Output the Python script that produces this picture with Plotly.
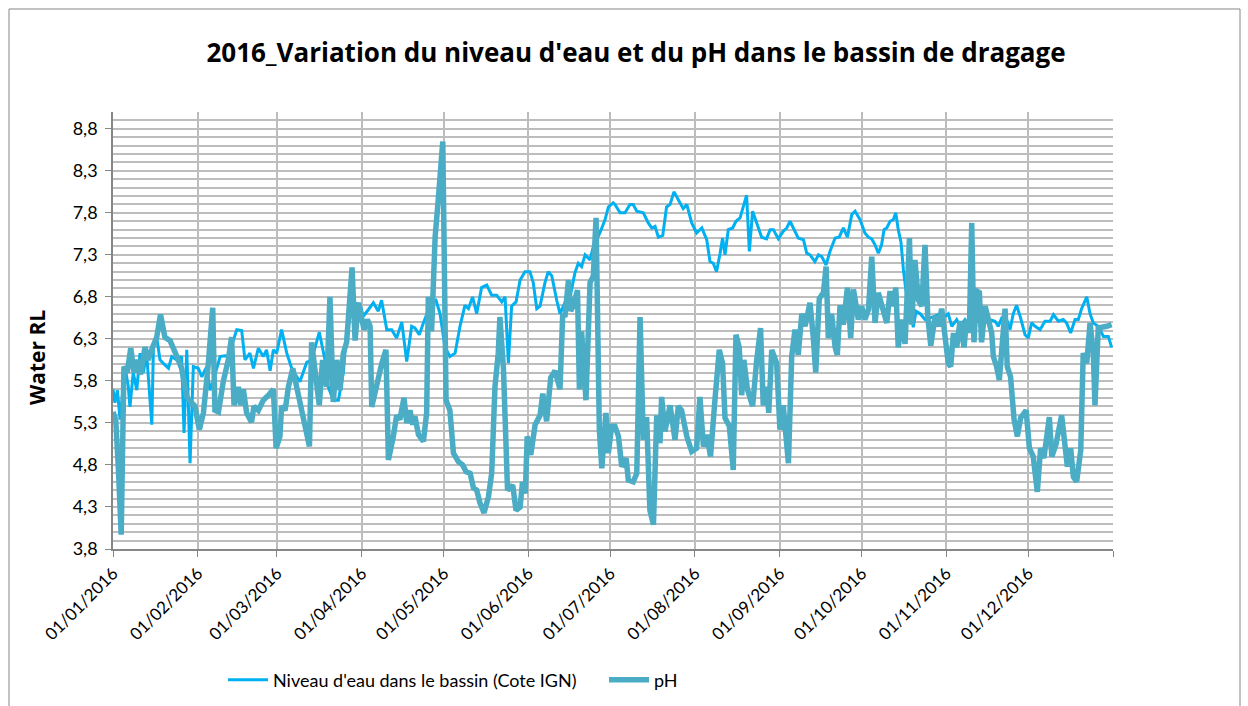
import pandas as pd
import plotly.graph_objects as go

# ---- Data (day offsets from 01/01/2016) ----
day_niveau = [0, 0.7, 1.6, 2.6, 4.4, 5.6, 6.2, 7.4, 8.7, 9.9, 11.1, 12.3, 14.2, 14.8, 16, 17.2, 19, 20.3,
              21.5, 23.3, 25.1, 26, 27, 28.2, 29.4, 31.2, 32.5, 34.3, 35.5, 36.7, 39.2, 41, 42.2, 45.3,
              47.1, 48.3, 50.1, 51.4, 53.2, 55, 56.2, 57.5, 58.7, 59.9, 61.7, 63.6, 65.4, 68.4, 70.9,
              72.7, 75.5, 77.6, 78.8, 80.6, 82.5, 84.3, 85.5, 88, 90.4, 91.6, 93.5, 95.3, 97.1, 98.3,
              100.2, 102, 103.8, 105.7, 107.5, 109.3, 110.5, 112.1, 113.6, 115.4, 116.6, 118.2, 119.7,
              121.5, 123.3, 125.2, 127, 128.8, 130.1, 131.6, 133.1, 134.9, 136.8, 138.6, 140.4, 142.3,
              143.5, 144.7, 145.9, 147.5, 149, 150.8, 152.6, 153.8, 155.1, 156.3, 158.1, 159.3, 160.6,
              162.4, 163.6, 165.4, 167.3, 169.1, 170.3, 171.5, 172.8, 174.6, 175.8, 178.2, 180.1, 181.3,
              183.1, 183.7, 185.6, 187.4, 189.2, 190.4, 191.7, 194.1, 195.9, 197.2, 198.4, 199.6, 201.2,
              202.6, 203.9, 205.3, 206.9, 208.7, 210, 211.8, 213.6, 215.5, 217.3, 218.5, 219.7, 220.9,
              222.2, 223.1, 224, 225.2, 226.8, 228, 229.5, 230.7, 231.9, 232.9, 234.1, 235.6, 237.4,
              239.2, 240.5, 241.7, 243.5, 245.3, 246.6, 247.8, 249, 250.8, 252.7, 253.9, 255.1, 256.9,
              258.2, 259.4, 261, 262.4, 264.3, 265.8, 267.3, 268.8, 270.4, 271.6, 273.4, 275.2, 276.5,
              277.7, 278.9, 280.1, 281.3, 282.2, 283.2, 284.4, 285.6, 286.5, 287.4, 288.4, 289.3, 290.5,
              291.7, 292.9, 293.9, 295.4, 297.2, 299, 300.9, 302.7, 304.5, 305.7, 307, 308.8, 310, 311.8,
              313.7, 315.5, 317.3, 319.2, 321, 322.8, 324, 325.3, 327.1, 328.3, 329.5, 330.7, 332, 333.8,
              335, 336.2, 337.5, 339.3, 341.1, 343, 344.2, 346, 347.8, 349, 350.5, 352.1, 353.3, 354.5,
              356.4, 357.6, 358.8, 360.6, 362.5, 364.3, 365.5]
niveau = [5.70, 5.54, 5.69, 5.34, 5.97, 5.73, 5.49, 5.90, 5.69, 6.13, 5.90, 6.13, 5.28, 6.20, 6.32, 6.05,
          5.99, 5.95, 6.09, 6.05, 6.09, 5.18, 6.17, 4.82, 5.97, 5.95, 5.85, 5.97, 5.69, 5.80, 6.09, 6.10,
          6.09, 6.41, 6.40, 6.05, 6.13, 5.95, 6.19, 6.09, 6.17, 5.92, 6.17, 6.13, 6.41, 6.13, 5.95, 5.79,
          6.02, 6.05, 6.38, 6.05, 5.73, 5.57, 5.57, 5.90, 6.37, 6.73, 6.71, 6.57, 6.65, 6.73, 6.63, 6.76,
          6.41, 6.41, 6.31, 6.50, 6.03, 6.45, 6.43, 6.35, 6.49, 6.65, 6.74, 6.76, 6.60, 6.20, 6.09, 6.13,
          6.45, 6.70, 6.66, 6.80, 6.60, 6.91, 6.94, 6.82, 6.82, 6.74, 6.80, 6.01, 6.69, 6.74, 7.00, 7.10,
          7.10, 6.97, 6.66, 6.69, 6.97, 7.10, 7.05, 6.76, 6.60, 6.73, 6.80, 7.09, 7.20, 7.16, 7.30, 7.24,
          7.40, 7.56, 7.72, 7.87, 7.92, 7.90, 7.80, 7.80, 7.90, 7.90, 7.82, 7.80, 7.68, 7.62, 7.64, 7.51,
          7.53, 7.87, 7.90, 8.05, 7.95, 7.85, 7.90, 7.68, 7.56, 7.62, 7.48, 7.22, 7.20, 7.10, 7.32, 7.50,
          7.30, 7.60, 7.62, 7.70, 7.74, 7.87, 8.01, 7.34, 7.82, 7.68, 7.51, 7.49, 7.60, 7.60, 7.49, 7.58,
          7.62, 7.70, 7.62, 7.50, 7.48, 7.32, 7.30, 7.22, 7.30, 7.28, 7.18, 7.34, 7.50, 7.51, 7.62, 7.51,
          7.78, 7.82, 7.72, 7.56, 7.51, 7.49, 7.42, 7.32, 7.42, 7.60, 7.62, 7.70, 7.72, 7.80, 7.60, 7.45,
          7.12, 6.80, 6.68, 6.44, 6.63, 6.60, 6.53, 6.55, 6.57, 6.60, 6.57, 6.60, 6.45, 6.53, 6.45, 6.53,
          6.43, 6.49, 6.53, 6.49, 6.53, 6.51, 6.45, 6.55, 6.53, 6.41, 6.60, 6.70, 6.57, 6.35, 6.31, 6.49,
          6.45, 6.41, 6.51, 6.51, 6.59, 6.51, 6.53, 6.49, 6.37, 6.53, 6.53, 6.66, 6.80, 6.60, 6.49, 6.45,
          6.33, 6.33, 6.20]

day_ph = [0, 1, 2, 3, 4, 5.2, 6.5, 7.7, 8.7, 10.1, 11.7, 12.9, 14.5, 16, 17.4, 19, 20.9, 22.1, 23.9, 25.1,
          27, 28.8, 30, 31.6, 33.1, 34.9, 36.5, 37.3, 38.6, 40.4, 42.2, 43.4, 44.3, 45.9, 46.7, 47.7,
          48.9, 50.7, 51.6, 53.2, 55, 56.9, 58.7, 59.7, 61.1, 61.7, 63, 64.2, 65.8, 67.2, 69.1, 70.9,
          71.9, 72.7, 73.9, 75.5, 76.7, 78.2, 79.4, 80.6, 81.9, 83.1, 84.3, 85.5, 87.5, 88.6, 89.8,
          91.9, 93.1, 94.1, 94.7, 96.5, 98.3, 99.9, 100.8, 102.6, 103.8, 105, 106.5, 107.5, 108.7,
          109.7, 110.5, 111.8, 113.6, 114.8, 115.4, 116.6, 117.9, 119.1, 120.7, 121.9, 123.3, 124.6,
          126.4, 128, 129.2, 130.7, 131.9, 133.1, 134.3, 135.8, 137.4, 138.6, 139.8, 141, 141.6, 142.9,
          144.4, 146.3, 147.5, 149, 149.9, 150.9, 151.6, 152.9, 154.5, 156.3, 157.3, 158.7, 160.2,
          161.8, 163.6, 164.6, 165.4, 166.7, 167.5, 168.5, 170, 170.7, 171.5, 173.1, 174.6, 175.8,
          176.8, 178, 178.9, 180.4, 181.3, 182.5, 183.7, 185, 186.2, 187.8, 188.6, 190.4, 191.7, 192.9,
          194.1, 195.3, 196.5, 197.8, 199, 200.2, 200.8, 202, 203.9, 205.7, 206.9, 208.1, 210, 211.8,
          213.6, 214.8, 216.1, 217.3, 218.7, 220.3, 221.9, 223.1, 224, 225.6, 227, 228, 229.2, 230.1,
          230.9, 232.2, 234.1, 235.6, 237, 238, 239.2, 240, 241.1, 242.9, 244.1, 245.3, 247.2, 248.4,
          249.6, 250.8, 252.1, 253.3, 255.1, 256.3, 257.2, 258.5, 260, 261, 261.8, 263, 264.3, 265.1,
          266.1, 267.3, 268.8, 270, 271, 272.8, 274, 275.2, 276.5, 277.7, 278.9, 280.1, 281.9, 283.2,
          284.4, 285.6, 286.5, 287.4, 288.7, 289.9, 291.5, 292.3, 293.5, 294.8, 296, 297.2, 298.2,
          299.3, 300.9, 302.1, 303.3, 304.5, 305.7, 306.6, 307.6, 308.8, 310, 311.5, 312.4, 313.4,
          314.3, 315.1, 316.1, 317.1, 317.9, 319.2, 320.4, 321.6, 322.2, 323.4, 324.4, 325.3, 326.5,
          327.3, 328.5, 329.8, 331, 332.2, 334.2, 335.4, 336.8, 338.3, 339.5, 340.7, 342.7, 343.6,
          345.1, 347.2, 348.1, 349.3, 350.5, 351.5, 352.7, 354.2, 355.1, 356.4, 357.6, 358.8, 359.4,
          360.6, 363.7, 365.5]
ph = [5.43, 5.34, 4.74, 3.97, 5.97, 5.90, 6.19, 5.90, 6.05, 5.88, 6.20, 6.05, 6.20, 6.32, 6.59, 6.32, 6.28,
      6.17, 6.05, 5.95, 5.61, 5.54, 5.50, 5.22, 5.42, 6.01, 6.67, 5.45, 5.43, 5.80, 6.05, 6.32, 5.51,
      5.73, 5.51, 5.70, 5.42, 5.31, 5.50, 5.45, 5.57, 5.63, 5.70, 5.00, 5.14, 5.50, 5.45, 5.73, 5.95,
      5.73, 5.45, 5.14, 5.02, 6.26, 5.90, 5.51, 6.05, 5.73, 6.80, 5.55, 6.05, 5.69, 6.13, 6.26, 7.15,
      6.28, 6.73, 6.41, 6.53, 6.45, 5.49, 5.77, 6.00, 6.17, 4.86, 5.14, 5.39, 5.34, 5.60, 5.30, 5.45,
      5.28, 5.38, 5.16, 5.08, 5.42, 6.80, 6.39, 7.51, 7.98, 8.65, 5.57, 5.45, 4.94, 4.84, 4.80, 4.72,
      4.70, 4.53, 4.50, 4.35, 4.23, 4.42, 4.70, 5.73, 6.13, 6.56, 5.95, 4.50, 4.56, 4.26, 4.30, 4.60,
      4.46, 5.14, 4.92, 5.28, 5.39, 5.65, 5.32, 5.84, 5.92, 5.70, 6.60, 6.56, 7.00, 6.63, 6.70, 6.88,
      5.70, 6.39, 5.57, 6.97, 7.05, 7.74, 5.22, 4.76, 5.42, 4.94, 5.26, 5.26, 5.14, 4.78, 4.88, 4.62,
      4.60, 4.70, 6.56, 5.10, 5.37, 4.26, 4.09, 5.39, 5.06, 5.61, 5.20, 5.51, 5.10, 5.50, 5.45, 5.14,
      4.96, 5.00, 5.61, 5.02, 5.16, 4.90, 5.57, 6.17, 6.01, 5.36, 5.26, 4.74, 6.35, 6.20, 5.63, 6.05,
      5.70, 5.50, 6.05, 6.43, 5.51, 5.73, 5.42, 6.17, 6.01, 5.22, 5.51, 4.82, 6.09, 6.41, 6.11, 6.60,
      6.45, 6.73, 6.32, 5.90, 6.78, 6.85, 7.16, 6.31, 6.60, 6.20, 6.11, 6.70, 6.47, 6.91, 6.31, 6.89,
      6.53, 6.69, 6.53, 6.65, 7.28, 6.49, 6.85, 6.60, 6.49, 6.87, 6.69, 6.91, 6.20, 6.53, 6.24, 7.50,
      6.47, 7.24, 6.76, 6.69, 7.42, 6.57, 6.22, 6.57, 6.45, 6.66, 6.37, 6.01, 5.97, 6.37, 6.20, 6.51,
      6.20, 6.53, 6.37, 7.68, 6.26, 6.87, 6.85, 6.26, 6.69, 6.49, 6.37, 6.09, 5.97, 5.81, 6.20, 6.66,
      5.97, 5.85, 5.34, 5.14, 5.36, 5.45, 5.00, 4.90, 4.48, 5.00, 4.88, 5.37, 4.90, 5.04, 5.39, 5.10,
      4.78, 5.00, 4.66, 4.60, 4.98, 6.13, 6.01, 6.49, 6.13, 5.51, 6.43, 6.45, 6.47]

month_ticks = ["2016-01-01", "2016-02-01", "2016-03-01", "2016-04-01", "2016-05-01", "2016-06-01",
               "2016-07-01", "2016-08-01", "2016-09-01", "2016-10-01", "2016-11-01", "2016-12-01",
               "2017-01-01"]
month_labels = ["01/01/2016", "01/02/2016", "01/03/2016", "01/04/2016", "01/05/2016", "01/06/2016",
                "01/07/2016", "01/08/2016", "01/09/2016", "01/10/2016", "01/11/2016", "01/12/2016", ""]
y_ticks = [3.8, 4.3, 4.8, 5.3, 5.8, 6.3, 6.8, 7.3, 7.8, 8.3, 8.8]

start = pd.Timestamp("2016-01-01")
x_niv = start + pd.to_timedelta(day_niveau, unit="D")
x_ph = start + pd.to_timedelta(day_ph, unit="D")

FONT = "Lato"
BOLD_FONT = "Open Sans"
GRID = "#BDBDBD"

fig = go.Figure()
fig.add_trace(go.Scatter(x=x_niv, y=niveau, mode="lines", name="Niveau d'eau dans le bassin (Cote IGN)",
                         line=dict(color="#00B0F0", width=3)))
fig.add_trace(go.Scatter(x=x_ph, y=ph, mode="lines", name="pH",
                         line=dict(color="#4BACC6", width=5.5)))

fig.update_layout(
    width=1248, height=706,
    margin=dict(l=113, r=135, t=112, b=157, autoexpand=False),
    paper_bgcolor="white", plot_bgcolor="white",
    separators=", ",
    font=dict(family=FONT, size=16, color="#000000"),
    title=dict(text="<b>2016_Variation du niveau d'eau et du pH dans le bassin de dragage</b>",
               x=0.523, xref="paper", xanchor="center", y=1 - 53 / 706, yanchor="middle",
               font=dict(family=BOLD_FONT, size=26, color="#000000")),
    showlegend=True,
    legend=dict(orientation="h", x=0.110, xanchor="left", y=-0.300, yanchor="middle",
                font=dict(family=FONT, size=18), bgcolor="rgba(0,0,0,0)",
                itemwidth=40, entrywidth=326, entrywidthmode="pixels"),
    xaxis=dict(type="date", range=["2016-01-01", "2017-01-01"], tickvals=month_ticks,
               ticktext=month_labels, tickangle=-45, showgrid=True, gridcolor=GRID, gridwidth=1.5,
               showline=True, linecolor="#868686", linewidth=1.5, ticks="outside", ticklen=6,
               tickcolor="#868686", tickfont=dict(family=FONT, size=17), zeroline=False,
               automargin=False),
    yaxis=dict(range=[3.8, 9.0], tickvals=y_ticks, tickformat=".1f", showgrid=True, gridcolor=GRID,
               gridwidth=1.5, showline=True, linecolor="#868686", linewidth=1.5, ticks="outside",
               ticklen=6, tickcolor="#868686", tickfont=dict(family=FONT, size=18), zeroline=False,
               automargin=False, ticklabelstandoff=4,
               minor=dict(tick0=3.8, dtick=0.1, showgrid=True, gridcolor=GRID, gridwidth=1.5)),
    shapes=[dict(type="rect", xref="paper", yref="paper", x0=-0.104, x1=1.127, y0=-0.40, y1=1.2357,
                 line=dict(color="#868686", width=1), fillcolor="rgba(0,0,0,0)", layer="below")],
    annotations=[dict(text="<b>Water RL</b>", xref="paper", yref="paper", x=-0.076, y=0.437,
                      textangle=-90, showarrow=False, xanchor="center", yanchor="middle",
                      font=dict(family=BOLD_FONT, size=21, color="#000000"))],
)

fig.write_html("out.html", config={"displayModeBar": False},
               post_script="document.body.style.margin='0px';")
